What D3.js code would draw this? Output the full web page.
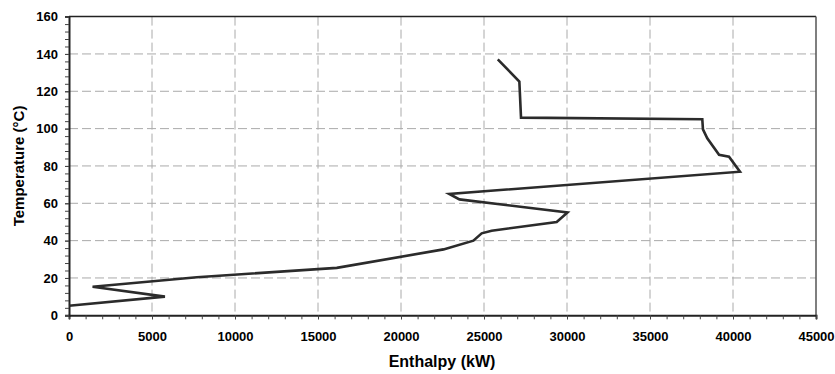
<!DOCTYPE html>
<html><head><meta charset="utf-8">
<script src="https://cdn.jsdelivr.net/npm/d3@7"></script>
<style>body{margin:0;background:#fff}svg{display:block}text{font-family:"Liberation Sans",Arial,sans-serif;font-weight:bold;fill:#000}</style>
</head><body><svg id="c" width="835" height="374"></svg>
<script>
const enthalpy = [25830, 27130, 27230, 38150, 38190, 38450, 39160, 39760, 40420, 22910, 23520, 30030, 29380, 25460, 24860, 24360, 22560, 16130, 7700, 1420, 5780, 0];
const temperature = [137.1, 125.2, 105.9, 105.0, 99.6, 94.8, 86.0, 85.0, 76.9, 65.0, 62.1, 55.1, 50.0, 45.3, 43.9, 40.0, 35.3, 25.4, 20.4, 15.3, 10.0, 5.1];
const xTicks = [0, 5000, 10000, 15000, 20000, 25000, 30000, 35000, 40000, 45000];
const yTicks = [0, 20, 40, 60, 80, 100, 120, 140, 160];
const xTitle = "Enthalpy (kW)";
const yTitle = "Temperature (°C)";

const svg = d3.select("#c");
const L = 69, R = 816, T = 16.6, B = 315.3;
const x = d3.scaleLinear().domain([0, 45000]).range([L, R]);
const y = d3.scaleLinear().domain([0, 160]).range([B, T]);

// grid
svg.append("g").selectAll("line").data(xTicks.filter(d => d > 0 && d < 45000)).join("line")
  .attr("x1", d => x(d)).attr("x2", d => x(d)).attr("y1", T).attr("y2", B)
  .attr("stroke", "#aaa").attr("stroke-width", 1).attr("stroke-dasharray", "9,4");
svg.append("g").selectAll("line").data(yTicks.filter(d => d > 0 && d < 160)).join("line")
  .attr("x1", L).attr("x2", R).attr("y1", d => y(d)).attr("y2", d => y(d))
  .attr("stroke", "#aaa").attr("stroke-width", 1).attr("stroke-dasharray", "9,4");

// frame top/right
svg.append("line").attr("x1", L).attr("x2", R).attr("y1", T).attr("y2", T).attr("stroke", "#222").attr("stroke-width", 1.5);
svg.append("line").attr("x1", R).attr("x2", R).attr("y1", T).attr("y2", B).attr("stroke", "#555").attr("stroke-width", 1.5);

// axes
const xAxis = d3.axisBottom(x).tickValues(xTicks).tickFormat(d3.format("d")).tickSize(4).tickPadding(12);
const gx = svg.append("g").attr("transform", `translate(0,${B})`).call(xAxis);
const xMinor = d3.axisBottom(x).tickValues(d3.range(0, 45001, 1000)).tickFormat("").tickSize(4);
svg.append("g").attr("transform", `translate(0,${B})`).call(xMinor).select(".domain").remove();
const yAxis = d3.axisLeft(y).tickValues(yTicks).tickSize(4).tickPadding(7);
const gy = svg.append("g").attr("transform", `translate(${L},0)`).call(yAxis);
const yMinor = d3.axisLeft(y).tickValues(d3.range(0, 161, 4)).tickFormat("").tickSize(4);
svg.append("g").attr("transform", `translate(${L},0)`).call(yMinor).select(".domain").remove();
svg.selectAll(".domain").attr("stroke", "#222").attr("stroke-width", 2);
svg.selectAll(".tick line").attr("stroke", "#444");
gx.selectAll("text").attr("font-size", 13).attr("font-family", "Liberation Sans, Arial").attr("font-weight", "bold");
gy.selectAll("text").attr("font-size", 13).attr("font-family", "Liberation Sans, Arial").attr("font-weight", "bold");

// line
const line = d3.line().x((d, i) => x(enthalpy[i])).y((d, i) => y(temperature[i]));
svg.append("path").datum(enthalpy).attr("d", line).attr("fill", "none")
  .attr("stroke", "#2b2b2b").attr("stroke-width", 2.6).attr("stroke-linejoin", "miter");

// titles
svg.append("text").attr("x", 442).attr("y", 367).attr("text-anchor", "middle").attr("font-size", 16).text(xTitle);
svg.append("text").attr("transform", `translate(24,${(T + B) / 2}) rotate(-90)`).attr("text-anchor", "middle").attr("font-size", 15).text(yTitle);
</script></body></html>
